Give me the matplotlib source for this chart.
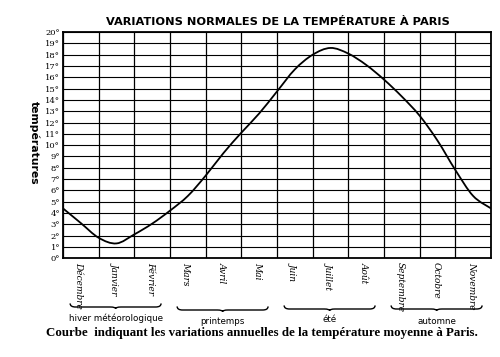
import matplotlib
matplotlib.use("Agg")
import matplotlib.pyplot as plt
from matplotlib.path import Path
from matplotlib.patches import PathPatch
import matplotlib.transforms as mtransforms

# ---- data ----
months = ["Décembre", "Janvier", "Février", "Mars", "Avril", "Mai",
          "Juin", "Juillet", "Août", "Septembre", "Octobre", "Novembre"]
# position along the year in months (0 = start of December) and temperature (°C)
pos = [0.0, 0.5, 1.0, 1.5, 2.0, 2.5, 3.0, 3.5, 4.0, 4.5, 5.0, 5.5, 6.0,
       6.5, 7.0, 7.5, 8.0, 8.5, 9.0, 9.5, 10.0, 10.5, 11.0, 11.5, 12.0]
temp = [4.4, 3.1, 1.8, 1.3, 2.1, 3.05, 4.2, 5.5, 7.3, 9.3, 11.1, 12.8, 14.75,
        16.7, 18.0, 18.6, 18.1, 17.1, 15.8, 14.3, 12.6, 10.4, 7.8, 5.5, 4.4]
degrees = list(range(0, 21))
seasons = ["hiver météorologique", "printemps", "été", "automne"]
season_spans = [(0, 3), (3, 6), (6, 9), (9, 12)]

title = "VARIATIONS NORMALES DE LA TEMPÉRATURE À PARIS"
caption = "Courbe  indiquant les variations annuelles de la température moyenne à Paris."

# ---- figure ----
fig = plt.figure(figsize=(5.0, 3.57), dpi=100)
ax = fig.add_axes([0.126, 0.277, 0.856, 0.633])

# smooth curve through the read points (Catmull-Rom rendered as cubic Bezier)
verts = [(pos[0], temp[0])]
codes = [Path.MOVETO]
n = len(pos)
for i in range(n - 1):
    p0 = (pos[max(i - 1, 0)], temp[max(i - 1, 0)])
    p1 = (pos[i], temp[i])
    p2 = (pos[i + 1], temp[i + 1])
    p3 = (pos[min(i + 2, n - 1)], temp[min(i + 2, n - 1)])
    c1 = (p1[0] + (p2[0] - p0[0]) / 6, p1[1] + (p2[1] - p0[1]) / 6)
    c2 = (p2[0] - (p3[0] - p1[0]) / 6, p2[1] - (p3[1] - p1[1]) / 6)
    verts += [c1, c2, p2]
    codes += [Path.CURVE4] * 3
ax.add_patch(PathPatch(Path(verts, codes), fill=False, lw=1.3,
                       edgecolor="black", zorder=3))

ax.set_xlim(0, 12)
ax.set_ylim(0, 20)

# grid
ax.set_xticks(range(0, 13), minor=True)
ax.set_yticks(degrees)
ax.set_yticklabels([f"{d}°" for d in degrees], family="DejaVu Serif",
                   fontsize=6)
ax.grid(which="minor", axis="x", color="black", lw=0.9)
ax.grid(which="major", axis="y", color="black", lw=0.8)
ax.tick_params(axis="y", length=0, pad=2)
ax.tick_params(axis="x", which="both", length=0)

ax.set_xticks([i + 0.45 for i in range(12)])
ax.set_xticklabels(months, rotation=270, fontsize=6.5, family="DejaVu Serif",
                   style="italic", va="top", ha="center")
ax.tick_params(axis="x", pad=3)

for s in ax.spines.values():
    s.set_linewidth(1.3)
    s.set_color("black")

# title and axis label
fig.text(0.556, 1 - 22 / 357, title, ha="center", va="center",
         fontsize=8.2, fontweight="bold", family="DejaVu Sans")
fig.text(34 / 500, 1 - 143 / 357, "températures", rotation=270,
         ha="center", va="center", fontsize=7.8, fontweight="bold",
         family="DejaVu Sans")

# season braces
trans = mtransforms.blended_transform_factory(ax.transData, fig.transFigure)
brace_y = [1 - 307 / 357, 1 - 310 / 357, 1 - 309 / 357, 1 - 309 / 357]
label_y = [1 - 318 / 357, 1 - 322 / 357, 1 - 319 / 357, 1 - 322 / 357]
for (a, b), name, by, ly in zip(season_spans, seasons, brace_y, label_y):
    a2, b2 = a + 0.2, b - 0.25
    mid = (a2 + b2) / 2
    h = 0.010
    d = 0.15
    bverts = [(a2, by + h), (a2, by), (a2 + d, by),
              (mid - d, by), (mid, by), (mid, by - h * 0.5),
              (mid, by), (mid + d, by),
              (b2 - d, by), (b2, by), (b2, by + h)]
    bcodes = [Path.MOVETO, Path.CURVE3, Path.CURVE3,
              Path.LINETO, Path.CURVE3, Path.CURVE3,
              Path.CURVE3, Path.CURVE3,
              Path.LINETO, Path.CURVE3, Path.CURVE3]
    ax.add_patch(PathPatch(Path(bverts, bcodes), transform=trans, fill=False,
                           lw=1.0, edgecolor="black", clip_on=False))
    fig.text(mid, ly, name, transform=trans, ha="center", va="center",
             fontsize=6.3, family="DejaVu Sans")

fig.text(0.524, 1 - 333 / 357, caption, ha="center", va="center",
         fontsize=9.3, fontweight="bold", family="Liberation Serif")

fig.savefig("out.png", dpi=100, facecolor="white")
